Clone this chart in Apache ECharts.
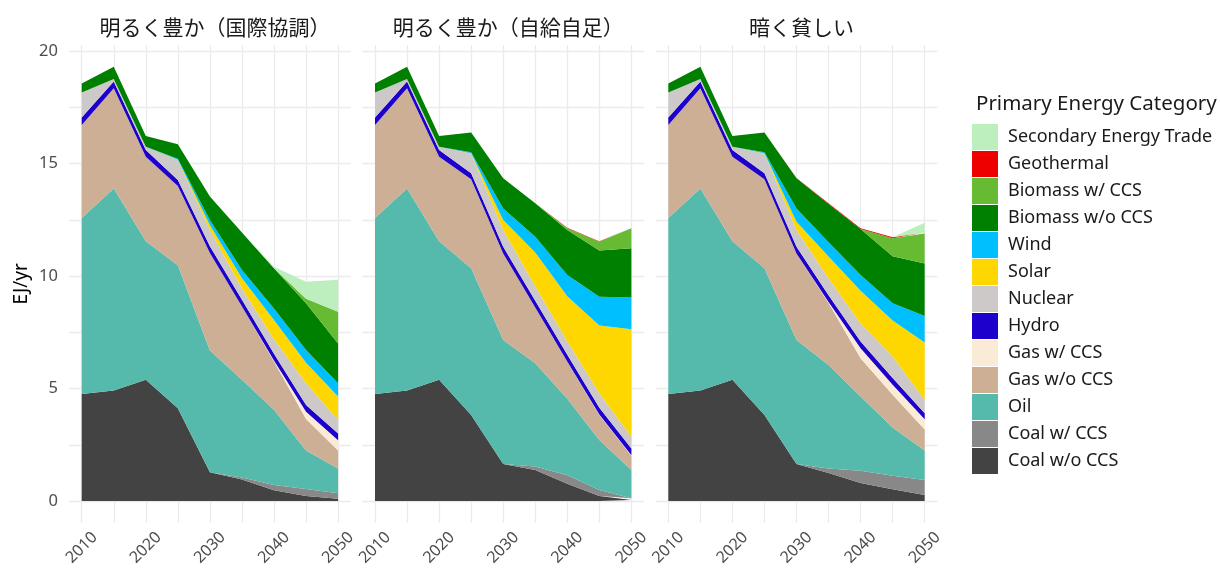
<!DOCTYPE html>
<html lang="ja">
<head>
<meta charset="UTF-8">
<title>Primary Energy</title>
<script src="https://cdn.jsdelivr.net/npm/echarts@6/dist/echarts.min.js"></script>
<style>
  html, body { margin: 0; padding: 0; background: #fff; }
  #main { width: 1220px; height: 570px; }
</style>
</head>
<body>
<div id="main"></div>
<script>
// years and scenario panels
var years = [2010, 2015, 2020, 2025, 2030, 2035, 2040, 2045, 2050];
var scenarios = ['明るく豊か（国際協調）', '明るく豊か（自給自足）', '暗く貧しい'];

// EJ/yr per category, one row per scenario (bottom of the stack first)
var coalWo = [
  [4.76, 4.91, 5.39, 4.12, 1.28, 0.96, 0.48, 0.22, 0.10],
  [4.76, 4.91, 5.39, 3.82, 1.64, 1.38, 0.77, 0.22, 0.05],
  [4.76, 4.91, 5.39, 3.82, 1.64, 1.25, 0.80, 0.52, 0.27]
];
var coalW = [
  [0, 0, 0, 0, 0, 0.09, 0.23, 0.31, 0.25],
  [0, 0, 0, 0, 0, 0.15, 0.37, 0.27, 0.07],
  [0, 0, 0, 0, 0, 0.20, 0.55, 0.60, 0.66]
];
var oil = [
  [7.82, 8.98, 6.15, 6.36, 5.41, 4.34, 3.35, 1.71, 1.09],
  [7.82, 8.98, 6.15, 6.52, 5.52, 4.59, 3.41, 2.22, 1.26],
  [7.82, 8.98, 6.15, 6.52, 5.52, 4.60, 3.30, 2.15, 1.32]
];
var gasWo = [
  [4.13, 4.45, 3.76, 3.52, 4.33, 3.26, 2.14, 1.41, 0.81],
  [4.13, 4.45, 3.76, 3.96, 3.84, 2.48, 1.65, 1.11, 0.62],
  [4.13, 4.45, 3.76, 3.96, 3.84, 2.75, 1.70, 1.45, 0.93]
];
var gasW = [
  [0, 0, 0, 0, 0, 0, 0.04, 0.32, 0.45],
  [0, 0, 0, 0, 0, 0, 0, 0.03, 0.03],
  [0, 0, 0, 0, 0, 0.05, 0.44, 0.45, 0.45]
];
var hydro = [
  [0.34, 0.30, 0.30, 0.27, 0.30, 0.30, 0.30, 0.30, 0.30],
  [0.34, 0.30, 0.30, 0.27, 0.30, 0.30, 0.30, 0.30, 0.30],
  [0.34, 0.30, 0.30, 0.27, 0.30, 0.30, 0.30, 0.30, 0.27]
];
var nuclear = [
  [1.11, 0.12, 0.15, 0.89, 0.72, 0.50, 0.65, 0.96, 0.60],
  [1.11, 0.12, 0.15, 0.88, 0.74, 0.65, 0.60, 0.64, 0.53],
  [1.11, 0.12, 0.15, 0.88, 0.74, 0.75, 0.80, 0.95, 0.59]
];
var solar = [
  [0, 0, 0, 0.01, 0.23, 0.45, 0.85, 0.92, 1.04],
  [0, 0, 0, 0.01, 0.45, 1.50, 2.00, 3.01, 4.77],
  [0, 0, 0, 0.01, 0.37, 0.97, 1.45, 1.60, 2.55]
];
var wind = [
  [0, 0, 0, 0.04, 0.22, 0.37, 0.52, 0.56, 0.59],
  [0, 0, 0, 0.04, 0.51, 0.70, 0.94, 1.28, 1.41],
  [0, 0, 0, 0.04, 0.59, 0.63, 0.70, 0.77, 1.18]
];
var bioWo = [
  [0.40, 0.54, 0.47, 0.65, 1.04, 1.66, 1.78, 2.08, 1.77],
  [0.40, 0.54, 0.47, 0.88, 1.34, 1.48, 2.00, 2.05, 2.19],
  [0.40, 0.54, 0.47, 0.88, 1.34, 1.70, 2.05, 2.09, 2.34]
];
var bioW = [
  [0, 0, 0, 0, 0, 0, 0, 0.20, 1.41],
  [0, 0, 0, 0, 0, 0, 0.08, 0.40, 0.89],
  [0, 0, 0, 0, 0, 0, 0, 0.80, 1.33]
];
var geo = [
  [0, 0, 0, 0, 0, 0, 0, 0, 0],
  [0, 0, 0, 0, 0, 0, 0.02, 0.02, 0.02],
  [0, 0, 0, 0, 0.02, 0.03, 0.03, 0.04, 0.04]
];
var secTrade = [
  [0, 0, 0, 0, 0, 0, 0.07, 0.76, 1.42],
  [0, 0, 0, 0, 0, 0, 0, 0, 0],
  [0, 0, 0, 0, 0, 0, 0, 0, 0.44]
];

var yTicks = [0, 5, 10, 15, 20];
var xTicks = [2010, 2020, 2030, 2040, 2050];
var gridYears = [2010, 2015, 2020, 2025, 2030, 2035, 2040, 2045, 2050];
var gridVals = [0, 2.5, 5, 7.5, 10, 12.5, 15, 17.5, 20];

// stacking order, bottom to top
var layers = [
  { name: 'Coal w/o CCS', data: coalWo, color: '#434343' },
  { name: 'Coal w/ CCS', data: coalW, color: '#888888' },
  { name: 'Oil', data: oil, color: '#55BAAC' },
  { name: 'Gas w/o CCS', data: gasWo, color: '#CDAF95' },
  { name: 'Gas w/ CCS', data: gasW, color: '#FAEBD7' },
  { name: 'Hydro', data: hydro, color: '#1E00CC' },
  { name: 'Nuclear', data: nuclear, color: '#CDC9C9' },
  { name: 'Solar', data: solar, color: '#FFD700' },
  { name: 'Wind', data: wind, color: '#00BFFF' },
  { name: 'Biomass w/o CCS', data: bioWo, color: '#008000' },
  { name: 'Biomass w/ CCS', data: bioW, color: '#66BB33' },
  { name: 'Geothermal', data: geo, color: '#EE0000' },
  { name: 'Secondary Energy Trade', data: secTrade, color: '#BDEEBD' }
];

var latin = 'Noto Sans, Liberation Sans, sans-serif';
var cjk = 'Noto Sans CJK SC, sans-serif';

var panelLeft = [68.9, 362.2, 655.5];
var panelWidth = 282;

var grids = [], xAxes = [], yAxes = [], series = [], titles = [];

panelLeft.forEach(function (left, p) {
  grids.push({ left: left, top: 45, width: panelWidth, height: 477.7 });
  xAxes.push({
    type: 'value', gridIndex: p, min: 2008, max: 2052,
    axisLine: { show: false }, axisTick: { show: false },
    splitLine: { show: false },
    axisLabel: {
      customValues: xTicks, rotate: 45, margin: 25,
      align: 'center', verticalAlign: 'middle',
      formatter: function (v) { return String(v); },
      color: '#4d4d4d', fontSize: 16, fontFamily: latin
    }
  });
  yAxes.push({
    type: 'value', gridIndex: p, min: -0.964, max: 20.267,
    axisLine: { show: false }, axisTick: { show: false },
    splitLine: { show: false },
    name: p === 0 ? 'EJ/yr' : '',
    nameLocation: 'middle', nameGap: 38, nameRotate: 90,
    nameTextStyle: { color: '#000', fontSize: 19, fontFamily: latin },
    axisLabel: {
      show: p === 0, customValues: yTicks, margin: 11,
      color: '#4d4d4d', fontSize: 16.5, fontFamily: latin
    }
  });

  // background grid lines
  var marks = [];
  gridYears.forEach(function (y) { marks.push({ xAxis: y }); });
  gridVals.forEach(function (v) { marks.push({ yAxis: v }); });
  series.push({
    type: 'line', name: '_grid' + p, xAxisIndex: p, yAxisIndex: p,
    data: [], silent: true, z: 0,
    markLine: {
      z: 0, silent: true, symbol: 'none', animation: false,
      label: { show: false },
      lineStyle: { color: '#ebebeb', type: 'solid', width: 1.3 },
      data: marks
    }
  });

  // stacked areas: value first so the stack runs on the y dimension
  layers.forEach(function (layer) {
    series.push({
      type: 'line', name: layer.name, stack: 'panel' + p,
      xAxisIndex: p, yAxisIndex: p, z: 2,
      symbol: 'none', showSymbol: false, animation: false,
      color: layer.color,
      itemStyle: { color: layer.color },
      lineStyle: { width: 0 },
      areaStyle: { color: layer.color, opacity: 1 },
      encode: { x: 1, y: 0 },
      data: years.map(function (y, i) { return [layer.data[p][i], y]; })
    });
  });

  titles.push({
    text: scenarios[p], left: left + panelWidth / 2, top: 12, textAlign: 'center',
    textStyle: { color: '#1a1a1a', fontSize: 21, fontWeight: 'normal', fontFamily: cjk }
  });
});

titles.push({
  text: 'Primary Energy Category', left: 971, top: 89,
  textStyle: { color: '#1a1a1a', fontSize: 20.5, fontWeight: 'normal', fontFamily: latin }
});

var chart = echarts.init(document.getElementById('main'), null, { renderer: 'canvas' });
chart.setOption({
  backgroundColor: '#fff',
  animation: false,
  title: titles,
  grid: grids,
  xAxis: xAxes,
  yAxis: yAxes,
  legend: {
    orient: 'vertical', left: 972, top: 124, padding: 0,
    icon: 'rect', itemWidth: 26, itemHeight: 26, itemGap: 1,
    data: layers.map(function (l) { return l.name; }).reverse(),
    textStyle: { color: '#1a1a1a', fontSize: 18, fontFamily: latin, padding: [0, 0, 0, 5] }
  },
  series: series
});
</script>
</body>
</html>
